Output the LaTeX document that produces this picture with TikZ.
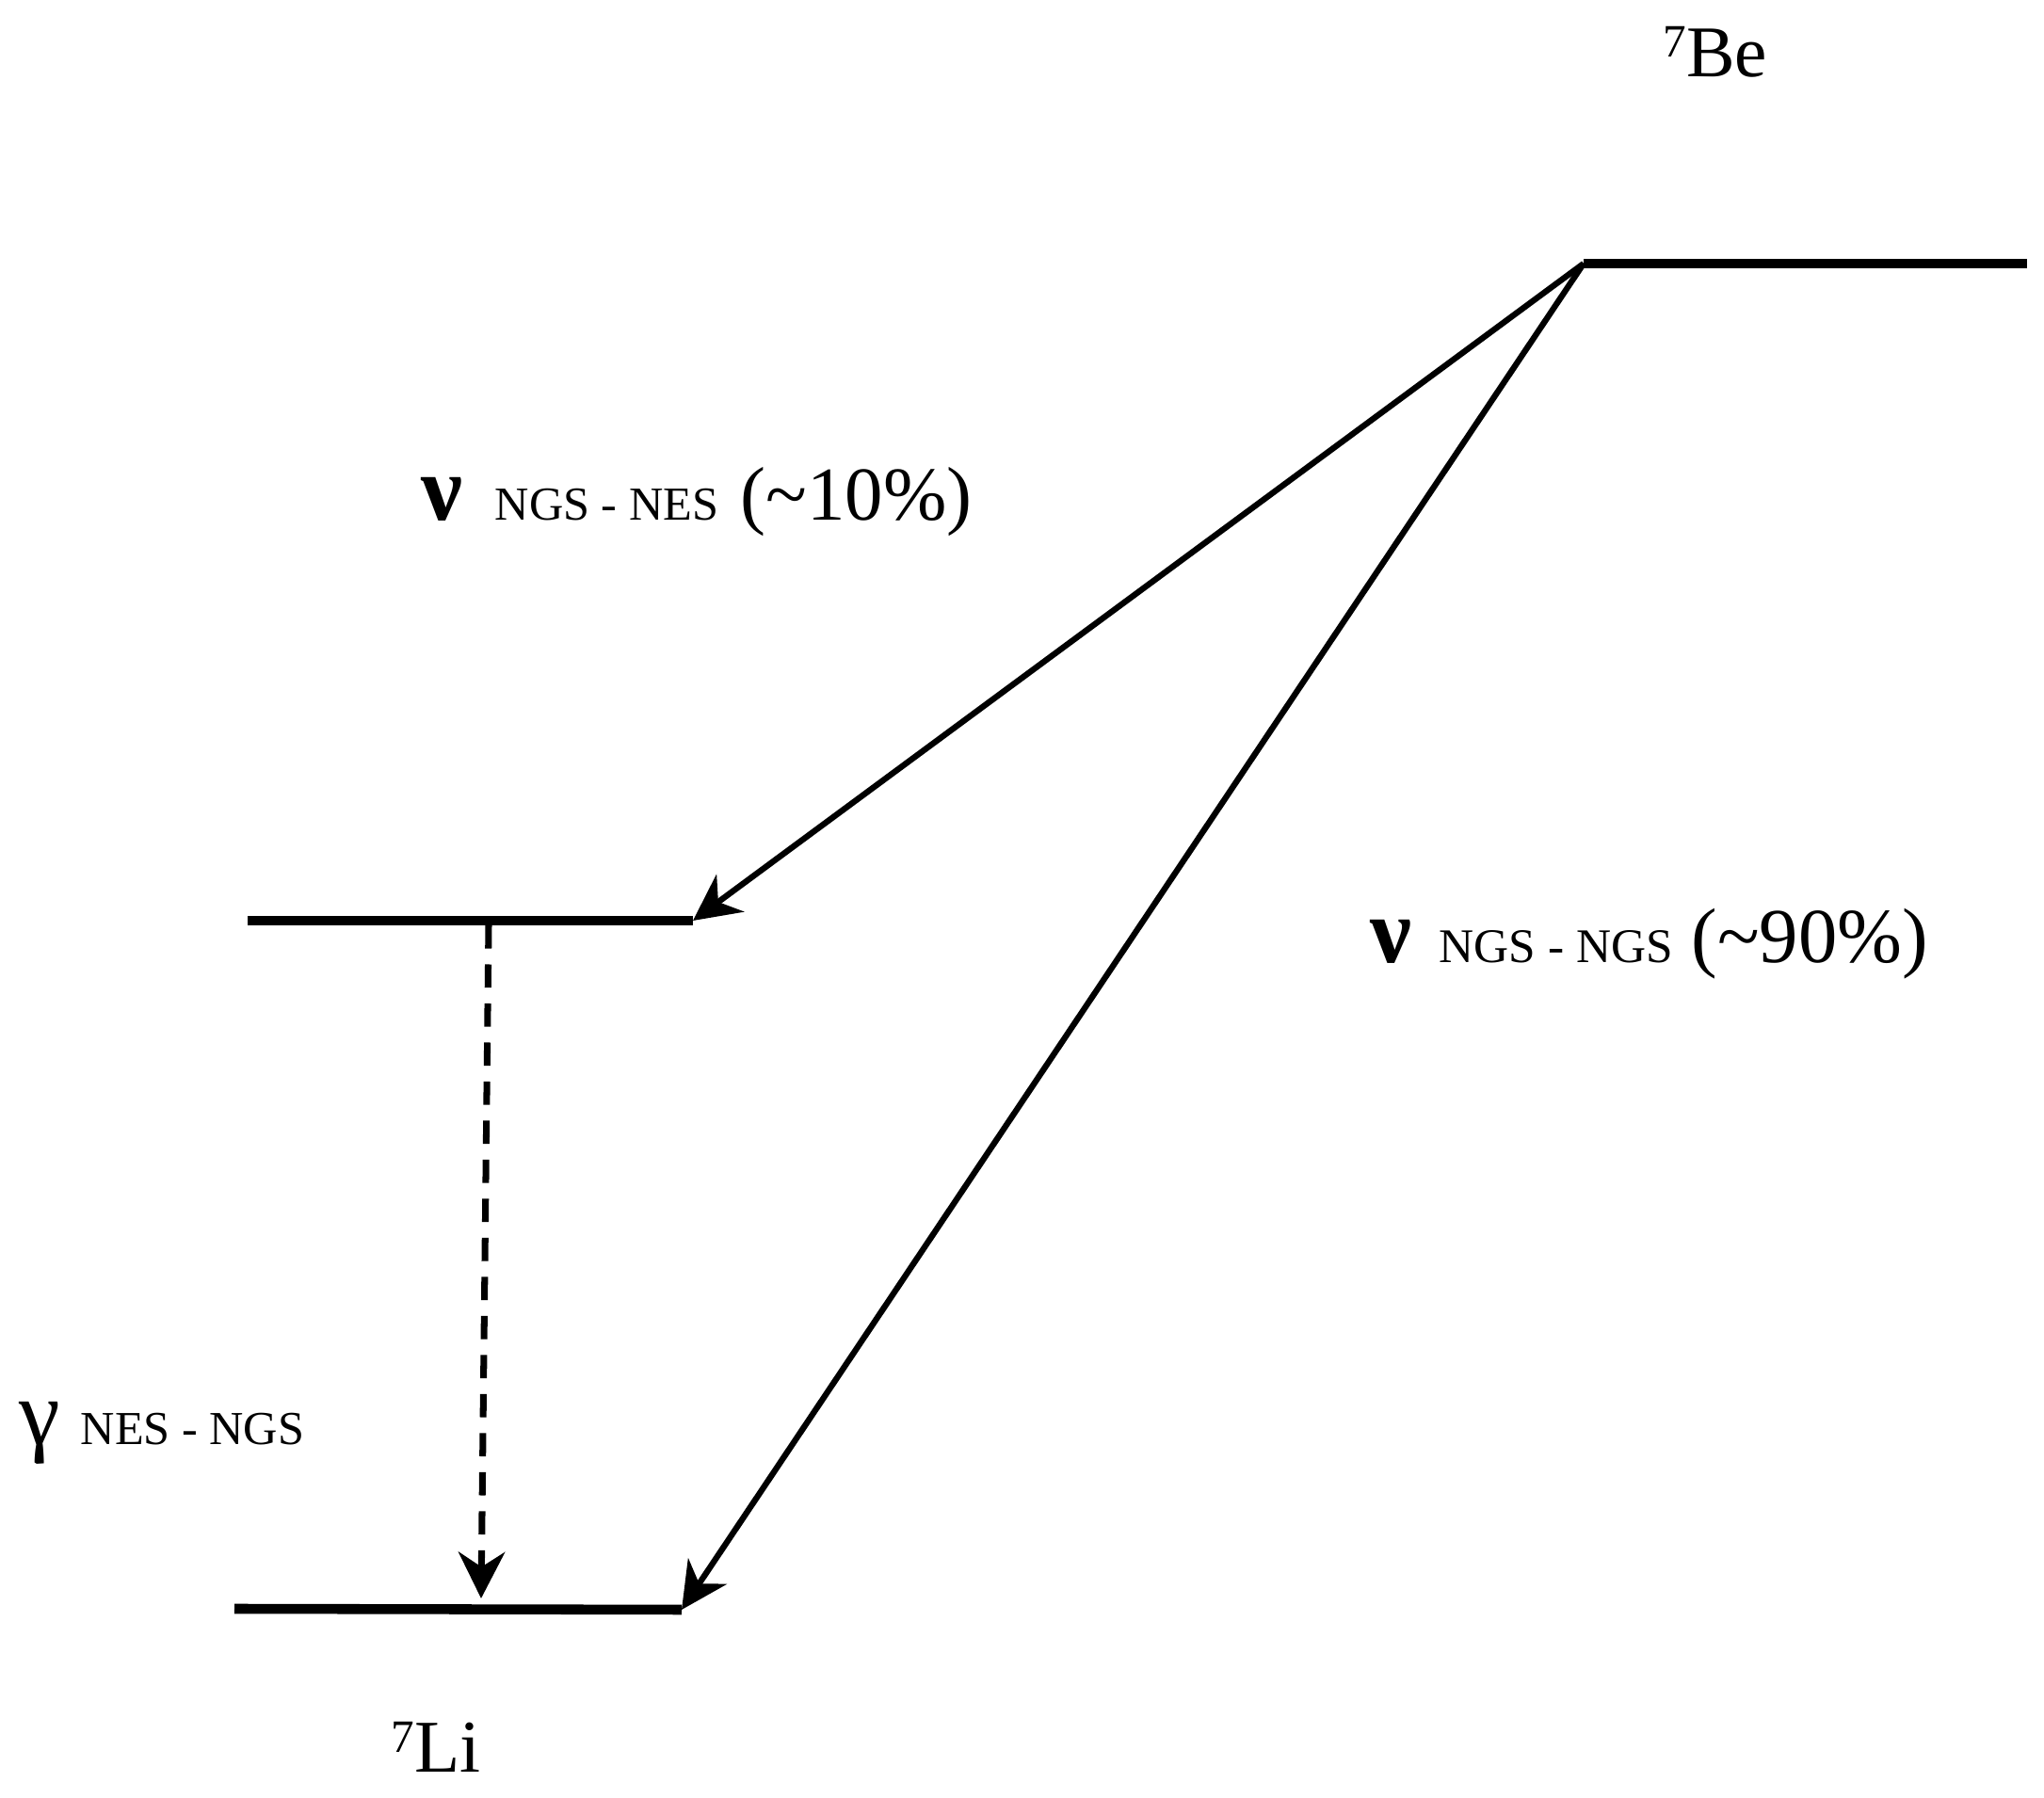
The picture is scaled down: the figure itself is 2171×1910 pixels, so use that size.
\documentclass[tikz,border=0pt]{standalone}
\usepackage{fontspec}
\setmainfont{Liberation Serif}
\usetikzlibrary{arrows.meta}
\newcommand{\fs}[1]{\fontsize{#1}{#1}\selectfont}
\begin{document}
\begin{tikzpicture}[x=0.01cm,y=-0.01cm,
  level/.style={line width=3pt},
  trans/.style={line width=1.8pt,-{Stealth[length=14pt,width=14pt,inset=4.5pt]}},
  gam/.style={line width=2pt,dash pattern=on 7pt off 4.8pt,-{Stealth[length=14pt,width=14pt,inset=4.5pt]}},
  lbl/.style={inner sep=0pt,anchor=base west},
]
\useasboundingbox[fill=white] (0,0) rectangle (2171,1910);
% level end points
\coordinate (beL) at (1682,280);
\coordinate (beR) at (2153,280);
\coordinate (nesL) at (263,978);
\coordinate (nesR) at (736,978);
\coordinate (gsL) at (249,1709);
\coordinate (gsR) at (724,1710);
\coordinate (gamTop) at (519,983);
\coordinate (gamEnd) at (511,1698);
% levels
\draw[level] (beL) -- (beR);
\draw[level] (nesL) -- (nesR);
\draw[level] (gsL) -- (gsR);
% transitions
\draw[trans] (beL) -- (nesR);
\draw[trans] (beL) -- (gsR);
\draw[gam] (gamTop) -- (gamEnd);
% labels
\node[lbl] (be) at (1766,82) {\fs{22}\raisebox{6pt}{\fs{14}7}Be};
\node[lbl] (li) at (415,1883) {\fs{22.5}\raisebox{6pt}{\fs{14}7}Li};
\node[lbl] (nu1) at (447,553) {\fs{28}\bfseries ν};
\node[lbl] (nu1s) at (525,553) {\fs{14.3}NGS - NES};
\node[lbl] (nu1p) at (786,553) {\fs{23}(\char"7E 10\%)};
\node[lbl] (nu2) at (1455,1023) {\fs{28}\bfseries ν};
\node[lbl] (nu2s) at (1528,1023) {\fs{14.6}NGS - NGS};
\node[lbl] (nu2p) at (1796,1023) {\fs{23.5}(\char"7E 90\%)};
\node[lbl] (ga) at (20,1535) {\fs{28}γ};
\node[lbl] (gas) at (85,1535) {\fs{14.3}NES - NGS};
\end{tikzpicture}
\end{document}
